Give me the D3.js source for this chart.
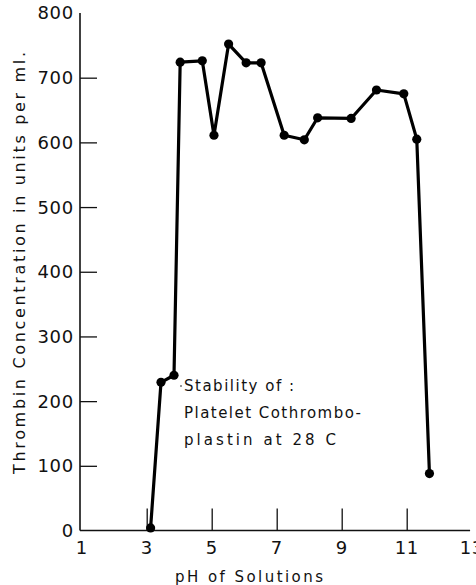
<!DOCTYPE html>
<html>
<head>
<meta charset="utf-8">
<script src="https://cdn.jsdelivr.net/npm/d3@7"></script>
<style>
  html, body { margin: 0; padding: 0; background: #fff; }
  svg { display: block; }
  text { font-family: "DejaVu Sans", "Liberation Sans", sans-serif; fill: #111; }
</style>
</head>
<body>
<div id="chart"></div>
<script>
// ---- data ----
const pH = [3.12, 3.44, 3.84, 4.03, 4.71, 5.07, 5.52, 6.06, 6.52, 7.23, 7.85, 8.26, 9.29, 10.07, 10.91, 11.31, 11.70];
const thrombin = [4, 229, 240, 724, 726, 611, 752, 723, 723, 611, 604, 638, 637, 681, 675, 605, 88];
const xTicks = [1, 3, 5, 7, 9, 11, 13];
const yTicks = [0, 100, 200, 300, 400, 500, 600, 700, 800];
const xTitle = "pH of Solutions";
const yTitle = "Thrombin Concentration in units per ml.";
const note = ["Stability of :", "Platelet Cothrombo-", "plastin at 28 C"];

const W = 476, H = 585;
const m = { left: 81.7, top: 13, right: W - 471.7, bottom: H - 530.5 };
const iw = W - m.left - m.right, ih = H - m.top - m.bottom;

const svg = d3.select("#chart").append("svg").attr("width", W).attr("height", H);
const g = svg.append("g").attr("transform", `translate(${m.left},${m.top})`);

const x = d3.scaleLinear().domain([1, 13]).range([0, iw]);
const y = d3.scaleLinear().domain([0, 800]).range([ih, 0]);

// axes lines
g.append("line").attr("x1", -1.7).attr("x2", -1.7).attr("y1", 0).attr("y2", ih)
  .attr("stroke", "#111").attr("stroke-width", 1.6);
g.append("line").attr("x1", -1.7).attr("x2", x(12.95)).attr("y1", ih).attr("y2", ih)
  .attr("stroke", "#111").attr("stroke-width", 1.4);

// y ticks (inward, to the right)
const yAxis = d3.axisRight(y).tickValues(yTicks.filter(v => v > 0 && v < 800)).tickSize(17).tickFormat("");
const ya = g.append("g").attr("transform", "translate(-1.7,0)").call(yAxis);
ya.select(".domain").remove();
ya.selectAll(".tick line").attr("stroke", "#111").attr("stroke-width", 1.3);

// y tick labels
g.selectAll(".ylab").data(yTicks).join("text")
  .attr("class", "ylab")
  .attr("x", -8).attr("y", d => y(d)).attr("dy", "0.36em")
  .attr("text-anchor", "end")
  .attr("font-size", 18).attr("letter-spacing", 0.6)
  .text(d => d);

// x ticks (upward)
const xAxis = d3.axisTop(x).tickValues(xTicks.filter(v => v > 1 && v < 13)).tickSize(22).tickFormat("");
const xa = g.append("g").attr("transform", `translate(0,${ih})`).call(xAxis);
xa.select(".domain").remove();
xa.selectAll(".tick line").attr("stroke", "#111").attr("stroke-width", 1.3);

// x tick labels
g.selectAll(".xlab").data(xTicks).join("text")
  .attr("class", "xlab")
  .attr("x", d => x(d)).attr("y", ih + 23)
  .attr("text-anchor", "middle")
  .attr("font-size", 18).attr("letter-spacing", 0.6)
  .text(d => d);

// axis titles
svg.append("text")
  .attr("x", 249).attr("y", 582)
  .attr("text-anchor", "middle").attr("font-size", 15)
  .attr("textLength", 148).attr("lengthAdjust", "spacing")
  .text(xTitle);
svg.append("text")
  .attr("transform", "translate(25,263) rotate(-90)")
  .attr("text-anchor", "middle").attr("font-size", 16)
  .attr("textLength", 422).attr("lengthAdjust", "spacing")
  .text(yTitle);

// line
const data = pH.map((p, i) => ({ p, v: thrombin[i] }));
g.append("path").datum(data)
  .attr("fill", "none").attr("stroke", "#000").attr("stroke-width", 3.2)
  .attr("stroke-linejoin", "round")
  .attr("d", d3.line().x(d => x(d.p)).y(d => y(d.v)));
g.selectAll(".pt").data(data).join("circle")
  .attr("class", "pt")
  .attr("cx", d => x(d.p)).attr("cy", d => y(d.v)).attr("r", 4.6)
  .attr("fill", "#000");

// annotation
const nt = svg.append("text").attr("font-size", 15);
const widths = [110, 177, 152];
note.forEach((t, i) => {
  nt.append("tspan").attr("x", 184).attr("y", 391 + i * 27)
    .attr("textLength", widths[i]).attr("lengthAdjust", "spacing").text(t);
});
svg.append("circle").attr("cx", 181).attr("cy", 386).attr("r", 0.8).attr("fill", "#111");
</script>
</body>
</html>
